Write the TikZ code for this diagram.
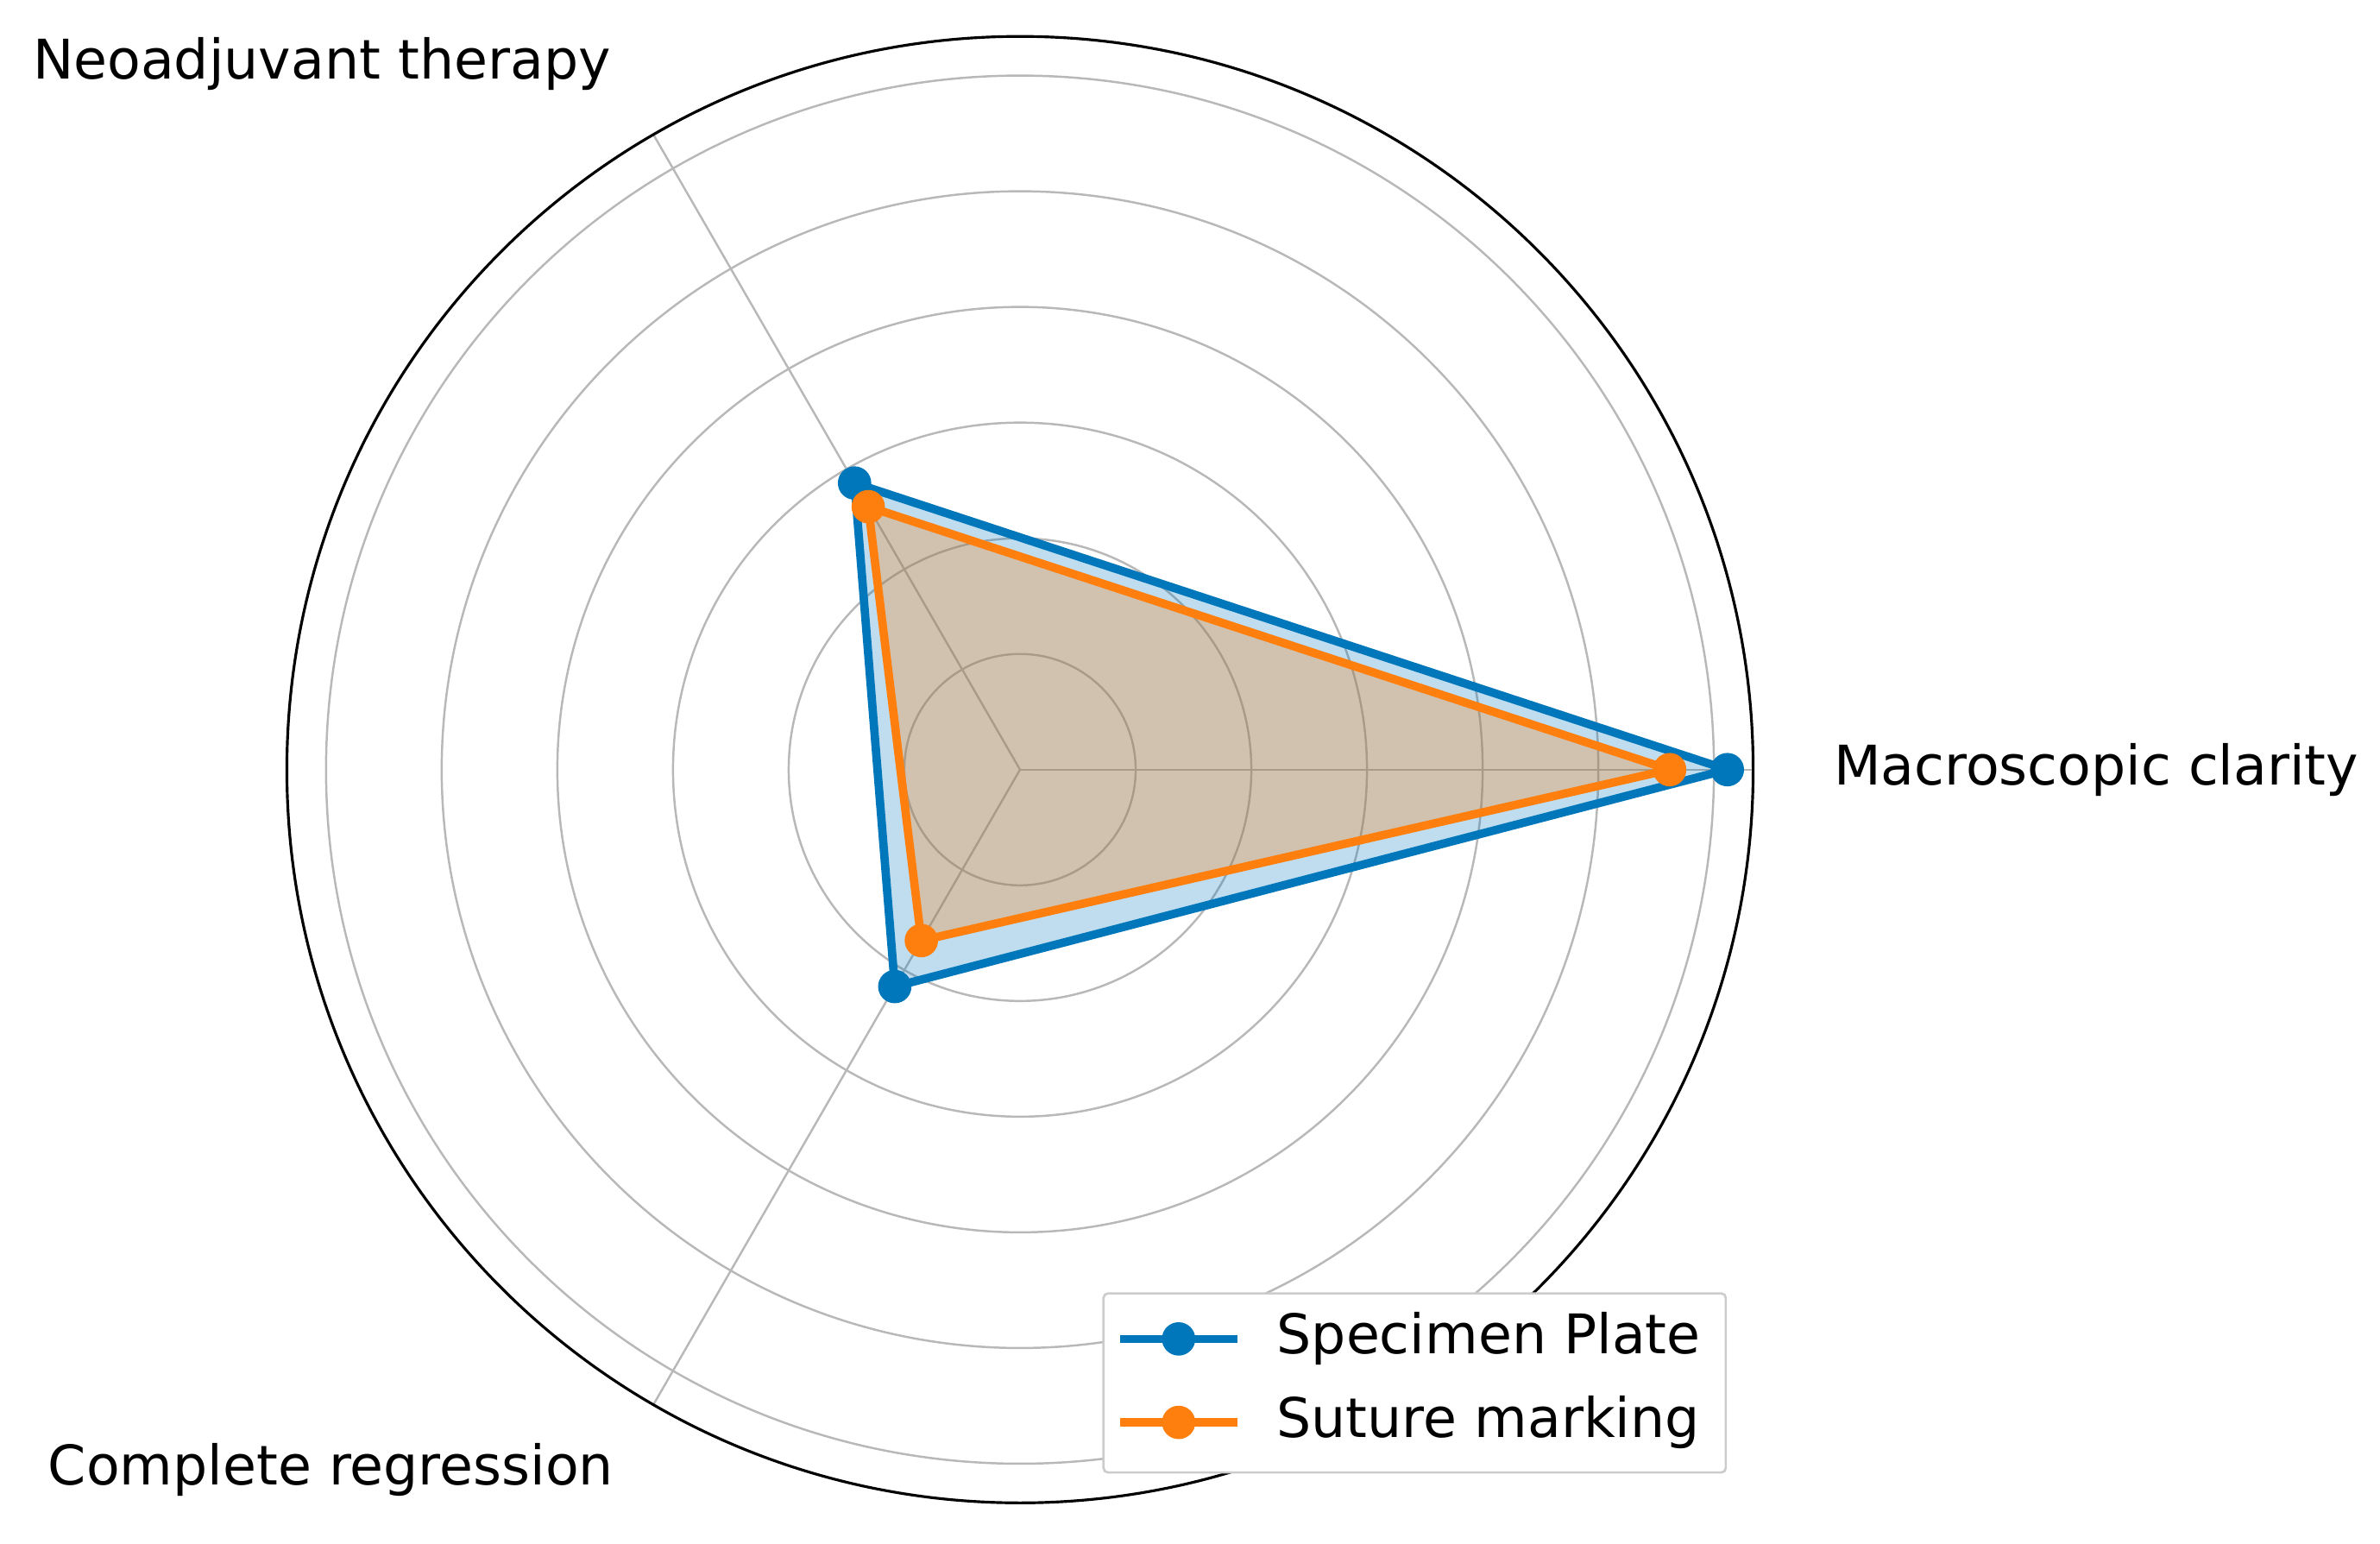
\documentclass[tikz,border=0pt]{standalone}
\usepackage{fontspec}
\setmainfont{DejaVu Sans}
\usetikzlibrary{calc}
\begin{document}
\begin{tikzpicture}[x=1pt,y=1pt,
  ring/.style={draw=black!28,line width=1.4pt},
  ser/.style={line width=5.5pt,line join=round},
  lab/.style={font=\fontsize{36}{42}\selectfont,inner sep=0pt}]
\useasboundingbox (0,0) rectangle (1568,1017);
\coordinate (c) at (672,510);
\foreach \r in {76.2,152.4,228.6,304.8,381,457.2} \draw[ring] (c) circle (\r);
\coordinate (a0) at ($(c)+(0:483)$);
\coordinate (a1) at ($(c)+(120:483)$);
\coordinate (a2) at ($(c)+(240:483)$);
\foreach \a in {a0,a1,a2} \draw[ring] (c) -- (\a);
\draw[black,line width=1.8pt] (c) circle (483);
\definecolor{bl}{HTML}{0077BB}
\definecolor{og}{HTML}{FF7F0E}
\coordinate (b0) at ($(c)+(0:466)$);
\coordinate (b1) at ($(c)+(120:218)$);
\coordinate (b2) at ($(c)+(240:165)$);
\coordinate (o0) at ($(c)+(0:428)$);
\coordinate (o1) at ($(c)+(120:200)$);
\coordinate (o2) at ($(c)+(240:130)$);
\fill[bl,opacity=0.25] (b0)--(b1)--(b2)--cycle;
\draw[ser,bl] (b0)--(b1)--(b2)--cycle;
\foreach \p in {b0,b1,b2} \fill[bl] (\p) circle (11);
\fill[og,opacity=0.28] (o0)--(o1)--(o2)--cycle;
\draw[ser,og] (o0)--(o1)--(o2)--cycle;
\foreach \p in {o0,o1,o2} \fill[og] (\p) circle (11);
\node[lab] (l0) at (1381,510) {Macroscopic clarity};
\node[lab] (l1) at (212,975) {Neoadjuvant therapy};
\node[lab] (l2) at (218,49) {Complete regression};
\draw[black!20,fill=white,line width=1.5pt,rounded corners=3pt] (727,47) rectangle (1137,165);
\coordinate (s1) at (738,135); \coordinate (e1) at (815,135);
\coordinate (s2) at (738,80); \coordinate (e2) at (815,80);
\draw[ser,bl] (s1)--(e1); \fill[bl] ($(s1)!0.5!(e1)$) circle (11);
\draw[ser,og] (s2)--(e2); \fill[og] ($(s2)!0.5!(e2)$) circle (11);
\node[lab,anchor=west] (t1) at (841,135) {Specimen Plate};
\node[lab,anchor=west] (t2) at (841,80) {Suture marking};
\end{tikzpicture}
\end{document}
